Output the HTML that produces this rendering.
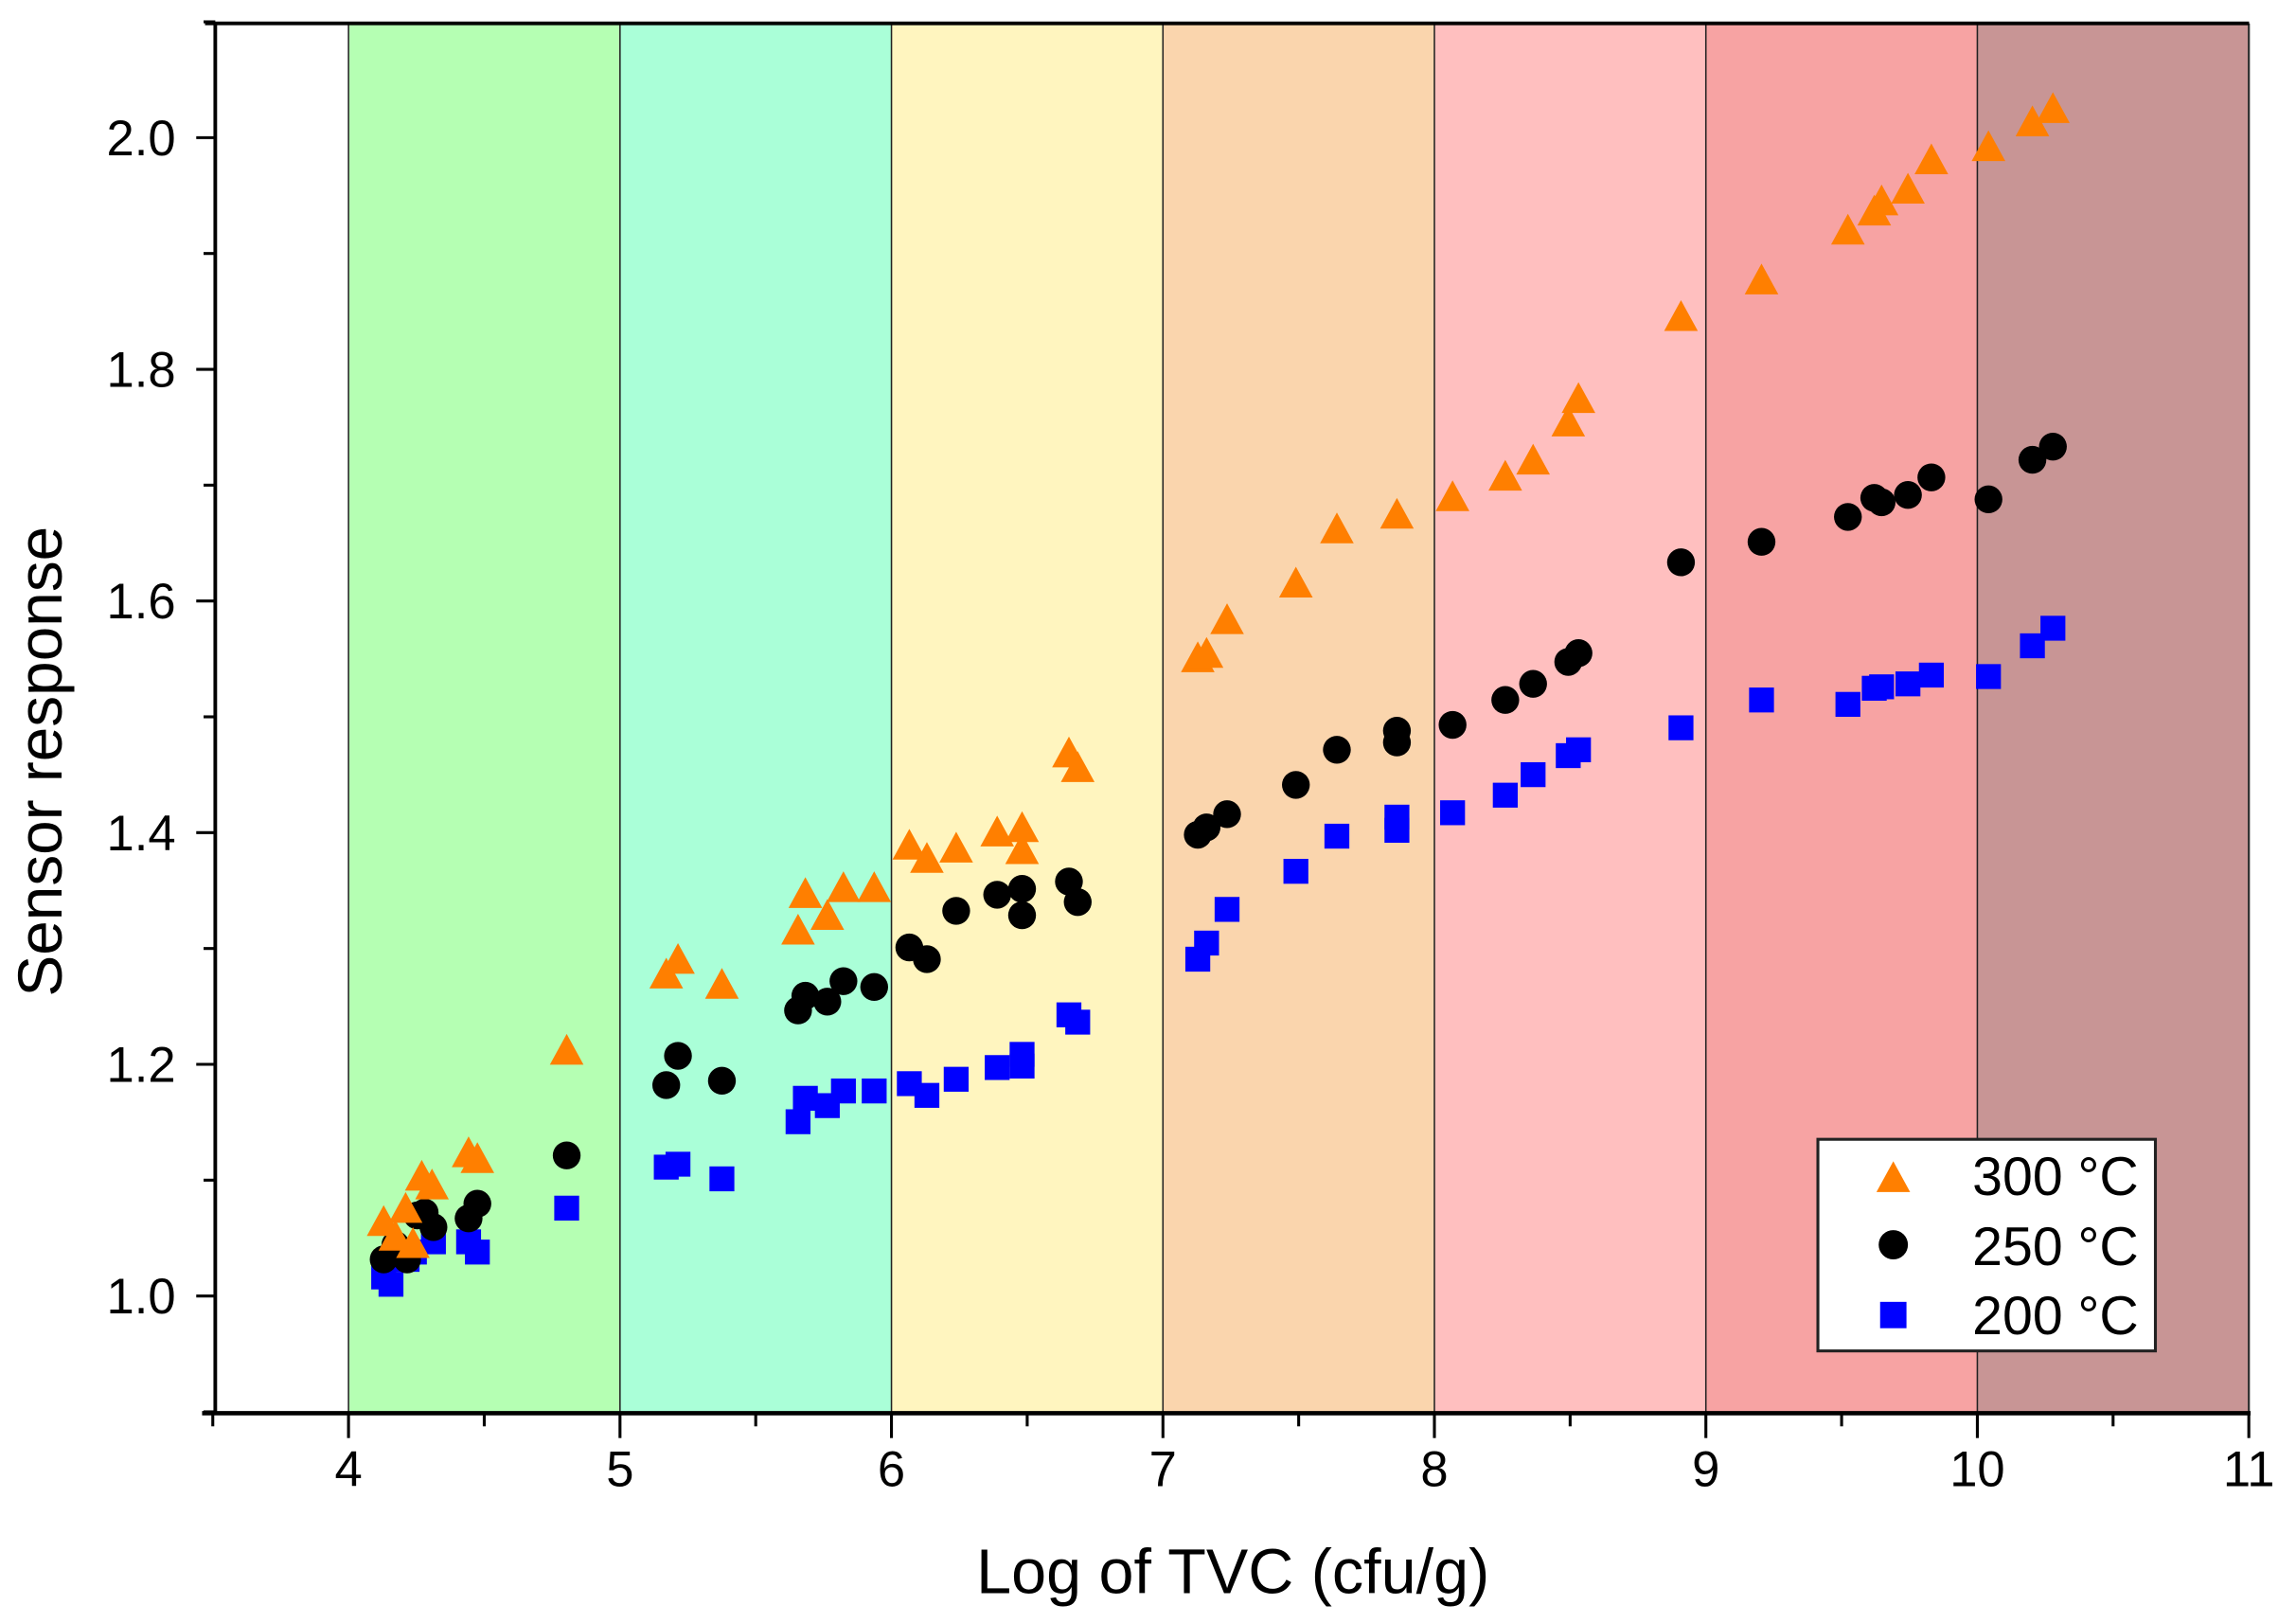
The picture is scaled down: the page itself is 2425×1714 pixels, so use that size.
<!DOCTYPE html>
<html><head><meta charset="utf-8"><style>
html,body{margin:0;padding:0;background:#fff;}
svg{display:block;font-family:"Liberation Sans",Arial,sans-serif;}
</style></head><body>
<svg id="c" width="2425" height="1714" viewBox="0 0 1568 1108.3" xmlns="http://www.w3.org/2000/svg">
<rect x="0" y="0" width="1568" height="1108.3" fill="#fff"/>
<rect x="238" y="16" width="185.4" height="949" fill="#b5ffb3"/>
<rect x="423.4" y="16" width="185.4" height="949" fill="#aaffd8"/>
<rect x="608.8" y="16" width="185.4" height="949" fill="#fff5bf"/>
<rect x="794.2" y="16" width="185.4" height="949" fill="#fad5ad"/>
<rect x="979.6" y="16" width="185.4" height="949" fill="#ffbfbf"/>
<rect x="1165" y="16" width="185.4" height="949" fill="#f7a3a3"/>
<rect x="1350.4" y="16" width="185.4" height="949" fill="#c89595"/>
<g stroke="#222" stroke-width="1">
<line x1="238" y1="16" x2="238" y2="965"/><line x1="423.4" y1="16" x2="423.4" y2="965"/>
<line x1="608.8" y1="16" x2="608.8" y2="965"/><line x1="794.2" y1="16" x2="794.2" y2="965"/>
<line x1="979.6" y1="16" x2="979.6" y2="965"/><line x1="1165" y1="16" x2="1165" y2="965"/>
<line x1="1350.4" y1="16" x2="1350.4" y2="965"/>
</g>
<line x1="1535.8" y1="16" x2="1535.8" y2="965" stroke="#333" stroke-width="1.5"/>
<line x1="140" y1="16" x2="1536" y2="16" stroke="#000" stroke-width="2.5"/>
<line x1="147" y1="16" x2="147" y2="966" stroke="#000" stroke-width="2.5"/>
<line x1="138" y1="965" x2="1537" y2="965" stroke="#000" stroke-width="3"/>
<g id="ticks" stroke="#000" stroke-width="2"></g>
<g id="labels" font-size="34" fill="#000"></g>
<text x="842" y="1088" font-size="43" text-anchor="middle">Log of TVC (cfu/g)</text>
<text transform="translate(42,520) rotate(-90)" font-size="42.5" text-anchor="middle">Sensor response</text>
<g id="pts"></g>
<rect x="1241.5" y="778" width="230.5" height="144.5" fill="#fff" stroke="#222" stroke-width="2"/>
<polygon points="1293,793 1304.5,814 1281.5,814" fill="#ff7f00"/>
<circle cx="1293" cy="850" r="10" fill="#000"/>
<rect x="1284" y="889" width="18" height="18" fill="#00f"/>
<g font-size="37" fill="#000">
<text x="1347" y="816">300 °C</text>
<text x="1347" y="864">250 °C</text>
<text x="1347" y="911">200 °C</text>
</g>
</svg>
<script>
var NS="http://www.w3.org/2000/svg";
function el(p,t,a,txt){var e=document.createElementNS(NS,t);for(var k in a)e.setAttribute(k,a[k]);if(txt!=null)e.textContent=txt;document.getElementById(p).appendChild(e);}
for(var i=0;i<=14;i++){var v=0.9+i*0.1;var y=885-(v-1)*791;var maj=(i%2==1);
 if(y<14)continue;
 el("ticks","line",{x1:maj?134:139,y1:y,x2:147,y2:y});
 if(maj)el("labels","text",{x:120,y:y+12,"text-anchor":"end"},v.toFixed(1));}
for(var i=0;i<=15;i++){var xv=3.5+i*0.5;var x=238+(xv-4)*185.4;var maj=(i%2==1);
 el("ticks","line",{x1:x,y1:965,x2:x,y2:maj?982:974});
 if(maj)el("labels","text",{x:x,y:1015,"text-anchor":"middle"},String(xv));}
var tri=[[262,835],[270,845],[277,826],[282,850],[288,804],[295,810],[320,788],[326,792],[387,718],[455,666],[463,656],[493,673],[545,636],[550,611],[565,626],[576,607],[597,607],[621,578],[633,587],[653,580],[681,569],[698,566],[698,581],[730,515],[736,525],[818,450],[824,447],[838,424],[885,399],[913,362],[954,352],[992,340],[1028,326],[1047,315],[1071,289],[1078,273],[1148,217],[1203,192],[1262,158],[1280,145],[1285,138],[1303,130],[1319,110],[1358,101],[1388,84],[1402,75]];
var cir=[[262,860],[270,850],[278,860],[285,830],[290,828],[296,838],[320,832],[326,822],[387,789],[455,741],[463,721],[493,738],[545,690],[550,680],[565,684],[576,670],[597,674],[621,647],[633,655],[653,622],[681,611],[698,607],[698,625],[730,602],[736,616],[818,570],[824,565],[838,556],[885,536],[913,512],[954,499],[954,507],[992,495],[1028,478],[1047,467],[1071,452],[1078,446],[1148,384],[1203,370],[1262,353],[1280,340],[1285,343],[1303,338],[1319,326],[1358,341],[1388,314],[1402,305]];
var sq=[[262,872],[267,877],[278,860],[283,855],[296,848],[320,848],[326,855],[387,825],[455,797],[463,795],[493,805],[545,766],[550,750],[565,755],[576,745],[597,745],[621,740],[633,748],[653,737],[681,729],[698,720],[698,728],[730,693],[736,698],[818,655],[824,644],[838,621],[885,595],[913,571],[954,558],[954,567],[992,555],[1028,543],[1047,529],[1071,516],[1078,512],[1148,497],[1203,478],[1262,481],[1280,470],[1285,469],[1303,467],[1319,461],[1358,462],[1388,441],[1402,429]];
sq.forEach(function(p){el("pts","rect",{x:p[0]-8.5,y:p[1]-8.5,width:17,height:17,fill:"#0000ff"});});
cir.forEach(function(p){el("pts","circle",{cx:p[0],cy:p[1],r:9.5,fill:"#000"});});
tri.forEach(function(p){var x=p[0],y=p[1];el("pts","polygon",{points:x+","+(y-12)+" "+(x+11.5)+","+(y+9)+" "+(x-11.5)+","+(y+9),fill:"#ff7f00"});});
</script>
</body></html>
